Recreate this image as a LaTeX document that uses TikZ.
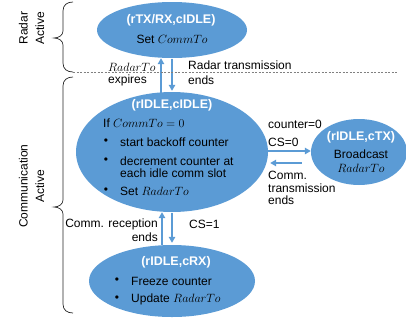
\documentclass[tikz,border=0pt]{standalone}
\usepackage{fontspec}
\setmainfont{Liberation Sans}
\usetikzlibrary{arrows.meta,shapes.geometric}
\definecolor{stateblue}{HTML}{5B9BD5}
\begin{document}
\begin{tikzpicture}[x=1pt,y=-1pt,
  txt/.style={font=\fontsize{12}{13}\selectfont, inner sep=0pt, text=black},
  state/.style={ellipse, fill=stateblue, draw=none, inner sep=0pt},
  title/.style={font=\fontsize{12.5}{14}\selectfont\bfseries, inner sep=0pt, text=white},
  arr/.style={draw=stateblue, line width=1.3pt, -{Triangle[length=6pt,width=6.5pt]}},
  bracepath/.style={draw=black!85, line width=0.7pt},
]
\useasboundingbox (0,0) rectangle (406,325);

% states
\node[state, minimum width=150pt, minimum height=56pt] (top) at (172,30) {};
\node[state, minimum width=192pt, minimum height=120pt] (mid) at (172,152) {};
\node[state, minimum width=96pt, minimum height=66pt] (tx) at (359,152) {};
\node[state, minimum width=166pt, minimum height=72pt] (bot) at (172,281) {};

% radar state text
\node[title] (topt) at (171,20) {(rTX/RX,cIDLE)};
\node[txt] (topa) at (172,39) {Set $CommTo$};

% idle state text
\node[title] (midt) at (172,105) {(rIDLE,cIDLE)};
\node[txt, anchor=west] (midif) at (103,123) {If $CommTo = 0$};
\node[txt] (b1) at (106,142) {•};
\node[txt, anchor=west] (m1) at (120,142) {start backoff counter};
\node[txt] (b2) at (106,161) {•};
\node[txt, anchor=west, align=left, font=\fontsize{12}{12.5}\selectfont] (m2) at (120,167) {decrement counter at\\each idle comm slot};
\node[txt] (b3) at (106,191) {•};
\node[txt, anchor=west] (m3) at (120,191) {Set $RadarTo$};

% transmit state text
\node[title] (txt1) at (361,137) {(rIDLE,cTX)};
\node[txt] (txa) at (361,154) {Broadcast};
\node[txt] (txb) at (361,168) {$RadarTo$};

% receive state text
\node[title] (bott) at (176,262) {(rIDLE,cRX)};
\node[txt] (b4) at (117,281) {•};
\node[txt, anchor=west] (r1) at (131,281) {Freeze counter};
\node[txt] (b5) at (117,299) {•};
\node[txt, anchor=west] (r2) at (131,299) {Update $RadarTo$};

% transitions
\draw[arr] ([xshift=-11pt,yshift=-2pt]mid.north) -- ([xshift=-11pt]top.south);
\draw[arr] ([yshift=-1pt]top.south) -- ([yshift=1pt]mid.north);
\draw[arr] ([xshift=-10pt]bot.north) -- ([xshift=-10pt]mid.south);
\draw[arr] ([yshift=-1pt]mid.south) -- ([yshift=2pt]bot.north);
\draw[arr] ([yshift=1pt]mid.east) -- ([yshift=1pt]tx.west);
\draw[arr] ([xshift=-9pt,yshift=-11pt]tx.west) -- ([xshift=2pt,yshift=-11pt]mid.east);

% transition labels
\node[txt, anchor=west, align=left, font=\fontsize{12}{12}\selectfont] (l1) at (108,75) {$RadarTo$\\expires};
\node[txt, anchor=west, align=left, font=\fontsize{12}{15}\selectfont] (l2) at (188,72.5) {Radar transmission\\ends};
\node[txt, anchor=west] (l3) at (268,124) {counter=0};
\node[txt, anchor=west] (l4) at (268,142) {CS=0};
\node[txt, anchor=west, align=left, font=\fontsize{12}{12.5}\selectfont] (l5) at (268,188) {Comm.\\transmission\\ends};
\node[txt, anchor=east, align=right, font=\fontsize{12}{14}\selectfont] (l6) at (158,230) {Comm. reception\\ends};
\node[txt, anchor=west] (l7) at (189,224) {CS=1};

% phase divider
\draw[gray, line width=0.5pt, dash pattern=on 2pt off 1.5pt] (73,72) -- (398,72);

% phase braces
\draw[bracepath] (73,2) .. controls (67,2) and (63,5) .. (63,11) -- (63,31)
  .. controls (63,35) and (59,38) .. (54,38) .. controls (59,38) and (63,41) .. (63,45)
  -- (63,63) .. controls (63,69) and (67,72) .. (73,72);
\draw[bracepath] (73,77) .. controls (67,77) and (63,80) .. (63,86) -- (63,200)
  .. controls (63,204) and (59,207) .. (54,207) .. controls (59,207) and (63,210) .. (63,214)
  -- (63,304) .. controls (63,310) and (67,313) .. (73,313);

% phase labels
\node[txt, rotate=90, align=center, font=\fontsize{12}{16.5}\selectfont] (p1) at (31.5,28) {Radar\\Active};
\node[txt, rotate=90, align=center, font=\fontsize{12}{16.5}\selectfont] (p2) at (31.5,186) {Communication\\Active};
\end{tikzpicture}
\end{document}
